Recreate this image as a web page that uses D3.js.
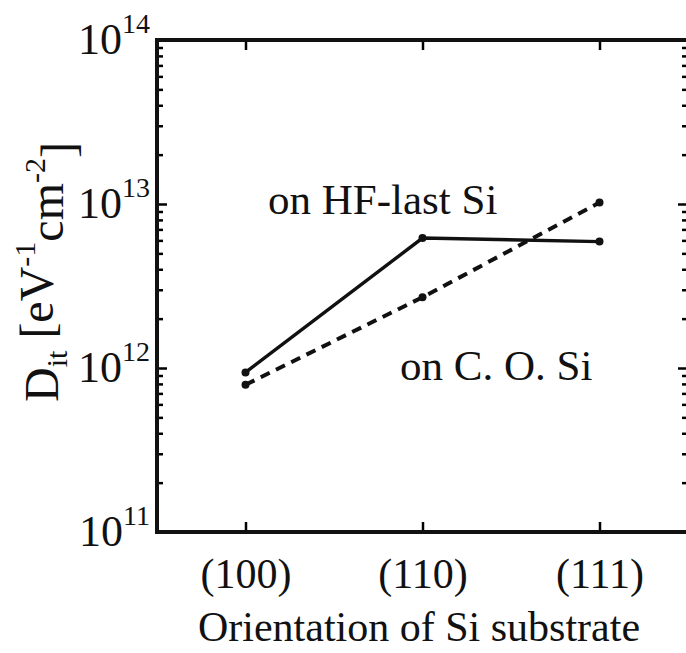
<!DOCTYPE html>
<html>
<head>
<meta charset="utf-8">
<script src="https://cdn.jsdelivr.net/npm/d3@7"></script>
<style>
  body { margin: 0; background: #fff; }
</style>
</head>
<body>
<div id="chart"></div>
<script>
// orientation categories
const orientations = ["(100)", "(110)", "(111)"];
// Dit values [eV^-1 cm^-2]
const hfLast = [9.4e11, 6.2e12, 5.9e12];
const coSi = [7.9e11, 2.7e12, 1.02e13];
const decades = [11, 12, 13, 14];

const serif = "'Liberation Serif', 'Times New Roman', Times, 'DejaVu Serif', serif";

const W = 686, H = 653;
const margin = { top: 40, right: -2, bottom: 121, left: 157 };
const width = W - margin.left - margin.right;
const height = H - margin.top - margin.bottom;

const svg = d3.select("#chart")
    .append("svg")
    .attr("width", W)
    .attr("height", H)
    .attr("font-family", serif);

const g = svg.append("g")
    .attr("transform", `translate(${margin.left},${margin.top})`);

const x = d3.scalePoint()
    .domain(orientations)
    .range([0, width])
    .padding(0.5);

const y = d3.scaleLog()
    .domain([1e11, 1e14])
    .range([height, 0]);

// minor tick values 2..9 in each decade
const minor = [];
decades.slice(0, -1).forEach(d => {
    for (let k = 2; k <= 9; k++) minor.push(k * Math.pow(10, d));
});
const major = decades.map(d => Math.pow(10, d));

// left axis: minor + major ticks pointing inside
g.append("g")
    .call(d3.axisLeft(y).tickValues(minor).tickSize(-6).tickFormat(""))
    .call(a => a.select(".domain").remove())
    .selectAll("line").attr("stroke-width", 2.5);

const left = g.append("g")
    .call(d3.axisLeft(y).tickValues(major).tickSize(-10))
    .attr("font-family", serif)
    .call(a => a.select(".domain").remove());
left.selectAll("line").attr("stroke-width", 2.5);
left.selectAll(".tick text")
    .attr("fill", "#111")
    .attr("x", -7)
    .attr("dy", "0.3em")
    .style("font-size", "44px")
    .text("10")
    .append("tspan")
    .attr("dy", "-0.75em")
    .style("font-size", "28px")
    .text(d => Math.round(Math.log10(d)));

// right axis ticks (axis line sits at the image edge)
const right = g.append("g")
    .attr("transform", `translate(${width},0)`);
right.append("g")
    .call(d3.axisRight(y).tickValues(minor).tickSize(-6).tickFormat(""))
    .call(a => a.select(".domain").remove())
    .selectAll("line").attr("stroke-width", 2.5);
right.append("g")
    .call(d3.axisRight(y).tickValues(major).tickSize(-10).tickFormat(""))
    .call(a => a.select(".domain").remove())
    .selectAll("line").attr("stroke-width", 2.5);

// bottom axis
const bottom = g.append("g")
    .attr("transform", `translate(0,${height})`)
    .call(d3.axisBottom(x).tickSize(-10).tickPadding(26))
    .attr("font-family", serif)
    .call(a => a.select(".domain").remove());
bottom.selectAll("line").attr("stroke-width", 2.5);
bottom.selectAll(".tick text")
    .attr("fill", "#111")
    .style("font-size", "42px")
    .attr("dy", "0.71em");

// top axis ticks
g.append("g")
    .call(d3.axisTop(x).tickSize(-10).tickFormat(""))
    .call(a => a.select(".domain").remove())
    .selectAll("line").attr("stroke-width", 2.5);

// frame
g.append("rect")
    .attr("x", 0).attr("y", 0)
    .attr("width", width).attr("height", height)
    .attr("fill", "none")
    .attr("stroke", "#111")
    .attr("stroke-width", 4);

// lines
const line = d3.line()
    .x((d, i) => x(orientations[i]))
    .y(d => y(d));

g.append("path")
    .datum(hfLast)
    .attr("d", line)
    .attr("fill", "none")
    .attr("stroke", "#111")
    .attr("stroke-width", 3.4);

g.append("path")
    .datum(coSi)
    .attr("d", line)
    .attr("fill", "none")
    .attr("stroke", "#111")
    .attr("stroke-width", 4)
    .attr("stroke-dasharray", "10,7");

[hfLast, coSi].forEach(s => {
    g.selectAll(null)
        .data(s)
        .enter()
        .append("circle")
        .attr("cx", (d, i) => x(orientations[i]))
        .attr("cy", d => y(d))
        .attr("r", 4)
        .attr("fill", "#111");
});

// annotations
g.append("text")
    .attr("x", 111).attr("y", 174)
    .attr("fill", "#111")
    .style("font-size", "43px")
    .text("on HF-last Si");

g.append("text")
    .attr("x", 243).attr("y", 340)
    .attr("fill", "#111")
    .style("font-size", "43px")
    .text("on C. O. Si");

// axis titles
svg.append("text")
    .attr("x", 419).attr("y", 641)
    .attr("text-anchor", "middle")
    .attr("fill", "#111")
    .style("font-size", "42px")
    .text("Orientation of Si substrate");

const yl = svg.append("text")
    .attr("transform", "translate(58,272) rotate(-90)")
    .attr("text-anchor", "middle")
    .attr("fill", "#111")
    .style("font-size", "48px");
yl.append("tspan").text("D");
yl.append("tspan").attr("dy", "0.3em").style("font-size", "30px").text("it");
yl.append("tspan").attr("dy", "-0.3em").text(" [eV");
yl.append("tspan").attr("dy", "-0.6em").style("font-size", "30px").text("-1");
yl.append("tspan").attr("dy", "0.6em").text("cm");
yl.append("tspan").attr("dy", "-0.6em").style("font-size", "30px").text("-2");
yl.append("tspan").attr("dy", "0.6em").text("]");
</script>
</body>
</html>
